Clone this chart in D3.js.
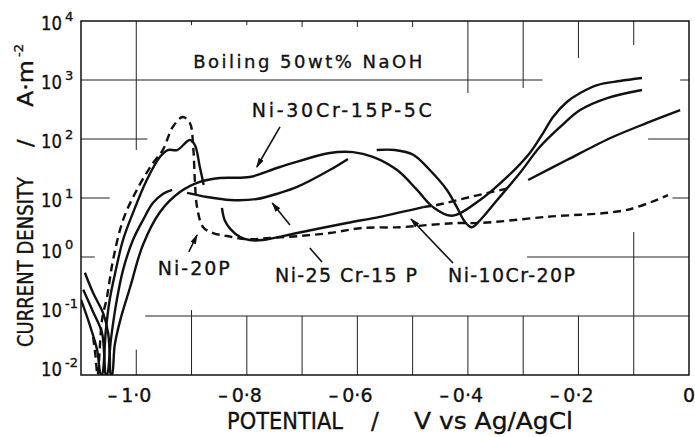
<!DOCTYPE html>
<html>
<head>
<meta charset="utf-8">
<script src="https://cdn.jsdelivr.net/npm/d3@7"></script>
<style>
  body { margin: 0; background: #fff; }
  text { font-family: "DejaVu Sans", sans-serif; fill: #111; stroke: #111; stroke-width: 0.35px; }
</style>
</head>
<body>
<svg id="chart" width="695" height="437"></svg>
<script>
// ---- data: [potential V vs Ag/AgCl, current density A/m2] ----
const ni30crCurve = [
  [-1.093, 0.54], [-1.078, 0.245], [-1.060, 0.112], [-1.051, 0.052], [-1.048, 0.022], [-1.046, 0.01],
  [-1.044, 0.01], [-1.039, 0.032], [-1.029, 0.085], [-1.011, 0.31], [-0.988, 1.6], [-0.957, 5.8],
  [-0.921, 12.6], [-0.885, 18.7], [-0.849, 21.8], [-0.795, 22.7], [-0.740, 33.5], [-0.650, 58],
  [-0.608, 60], [-0.572, 50], [-0.528, 29.8], [-0.492, 13.7], [-0.463, 7.0], [-0.429, 5.0],
  [-0.378, 9.25], [-0.329, 22.7], [-0.288, 58], [-0.264, 126], [-0.246, 236], [-0.221, 424],
  [-0.197, 603], [-0.166, 822], [-0.125, 962], [-0.085, 1081]
];
const ni25crActive = [
  [-1.100, 0.19], [-1.084, 0.070], [-1.071, 0.027], [-1.064, 0.01],
  [-1.062, 0.01], [-1.055, 0.058], [-1.048, 0.19], [-1.037, 0.60], [-1.024, 1.94], [-1.006, 5.6],
  [-0.981, 20.2], [-0.957, 50], [-0.943, 65], [-0.926, 65], [-0.903, 96], [-0.894, 79],
  [-0.885, 33.5], [-0.878, 16.6]
];
const ni25crPassive = [
  [-0.845, 6.8], [-0.840, 4.2], [-0.830, 3.0], [-0.812, 2.18], [-0.795, 1.94], [-0.771, 1.94],
  [-0.709, 2.55], [-0.619, 3.77], [-0.559, 4.8], [-0.481, 7.0]
];
const ni25crBridge = [[-0.481, 7.0], [-0.456, 7.6], [-0.396, 10.4], [-0.324, 14.8]];
const ni25crTrans = [[-0.291, 20.2], [-0.221, 44], [-0.138, 108], [-0.076, 187], [-0.016, 310]];
const ni10crActive = [
  [-1.096, 0.28], [-1.078, 0.117], [-1.062, 0.052], [-1.058, 0.022], [-1.055, 0.01],
  [-1.053, 0.01], [-1.046, 0.039], [-1.037, 0.15], [-1.024, 0.60], [-1.006, 1.94], [-0.988, 4.2],
  [-0.970, 8.2], [-0.952, 11.7], [-0.935, 13.7]
];
const ni10crPassive = [
  [-0.908, 12.2], [-0.872, 10.4], [-0.830, 9.25], [-0.782, 9.6], [-0.740, 12.2], [-0.709, 15.4],
  [-0.650, 29.8], [-0.617, 46]
];
const ni10crTrans = [
  [-0.565, 65], [-0.532, 65], [-0.499, 54], [-0.469, 29.8], [-0.438, 13.7], [-0.420, 7.0],
  [-0.405, 3.9], [-0.393, 3.2], [-0.378, 4.2], [-0.347, 9.25], [-0.306, 26.5], [-0.270, 73],
  [-0.233, 160], [-0.197, 310], [-0.148, 495], [-0.085, 678]
];
const ni20pCurve = [
  [-1.078, 0.044], [-1.074, 0.022], [-1.070, 0.01], [-1.062, 0.085], [-1.053, 0.21], [-1.042, 0.89],
  [-1.024, 4.2], [-0.999, 13.7], [-0.970, 39], [-0.952, 65], [-0.934, 160], [-0.916, 236],
  [-0.903, 187], [-0.897, 73], [-0.894, 20], [-0.890, 7.0], [-0.879, 3.2], [-0.861, 2.55],
  [-0.836, 2.27], [-0.800, 2.0], [-0.758, 2.1], [-0.704, 2.27], [-0.650, 2.55], [-0.592, 3.1],
  [-0.523, 3.2], [-0.469, 3.5], [-0.420, 3.77], [-0.378, 3.77], [-0.257, 4.8], [-0.112, 6.3],
  [-0.038, 11.2]
];

const xTicks = [-1.0, -0.8, -0.6, -0.4, -0.2, 0];
const xTickLabels = ['1·0', '0·8', '0·6', '0·4', '0·2', '0'];
const yTicks = [1e-2, 1e-1, 1e0, 1e1, 1e2, 1e3, 1e4];
const yTickExps = ['-2', '-1', '0', '1', '2', '3', '4'];

// partial graph-paper grid: [value, from, to]
const hGrid = [
  [1e3, -1.1, -0.265], [1e3, -0.016, 0], [1e2, -1.1, -0.98], [1e2, -0.074, 0],
  [1e1, -1.1, -1.048], [1e1, -0.03, 0], [1e0, -1.1, -1.075], [1e0, -0.293, 0], [1e-1, -0.984, 0]
];
const vGrid = [
  [-1.0, 65, 1e4], [-1.0, 1e-2, 0.027], [-0.9, 8500, 1e4], [-0.8, 8500, 1e4],
  [-0.7, 7900, 1e4], [-0.6, 7900, 1e4], [-0.5, 7900, 1e4], [-0.4, 603, 1e4],
  [-0.3, 731, 1e4], [-0.2, 2360, 1e4], [-0.1, 3920, 1e4],
  [-0.9, 1e-2, 0.126], [-0.8, 1e-2, 0.1], [-0.7, 1e-2, 0.1], [-0.6, 1e-2, 0.1],
  [-0.5, 1e-2, 0.1], [-0.4, 1e-2, 0.1], [-0.3, 1e-2, 0.1], [-0.2, 1e-2, 0.1], [-0.1, 1e-2, 2.65]
];

const labelTexts = ['Boiling 50wt% NaOH', 'Ni-30Cr-15P-5C', 'Ni-25 Cr-15 P', 'Ni-10Cr-20P', 'Ni-20P'];
const labelAnchors = [[-0.897, 1600], [-0.791, 236], [-0.749, 0.377], [-0.436, 0.377], [-0.961, 0.495]];
const pointers = [
  { from: [-0.740, 160], to: [-0.782, 33.5], head: true },
  { from: [-0.686, 1.42], to: [-0.664, 0.82], head: false },
  { from: [-0.722, 3.5], to: [-0.754, 8.2], head: true },
  { from: [-0.427, 0.79], to: [-0.503, 4.4], head: true },
  { from: [-0.905, 1.22], to: [-0.890, 2.36], head: true }
];

// ---- drawing ----
const svg = d3.select('#chart');
const plotLeft = 81, plotRight = 689, plotTop = 21, plotBottom = 375;

const x = d3.scaleLinear().domain([-1.1, 0]).range([plotLeft, plotRight]);
const y = d3.scaleLog().domain([1e-2, 1e4]).range([plotBottom, plotTop]);

const defs = svg.append('defs');
defs.append('clipPath').attr('id', 'plot')
  .append('rect').attr('x', plotLeft).attr('y', plotTop)
  .attr('width', plotRight - plotLeft).attr('height', plotBottom - plotTop);

const marker = defs.append('marker')
  .attr('id', 'head').attr('viewBox', '0 0 10 6')
  .attr('refX', 9).attr('refY', 3)
  .attr('markerWidth', 10).attr('markerHeight', 6)
  .attr('markerUnits', 'userSpaceOnUse')
  .attr('orient', 'auto');
marker.append('path').attr('d', 'M0,0 L10,3 L0,6 Z').attr('fill', '#111');

// grid
const grid = svg.append('g').attr('stroke', '#222').attr('stroke-width', 1);
hGrid.forEach(([v, a, b]) => {
  grid.append('line').attr('x1', x(a)).attr('x2', x(b)).attr('y1', y(v)).attr('y2', y(v));
});
vGrid.forEach(([v, a, b]) => {
  grid.append('line').attr('x1', x(v)).attr('x2', x(v)).attr('y1', y(a)).attr('y2', y(b));
});

// frame
svg.append('rect')
  .attr('x', plotLeft).attr('y', plotTop)
  .attr('width', plotRight - plotLeft).attr('height', plotBottom - plotTop)
  .attr('fill', 'none').attr('stroke', '#111').attr('stroke-width', 1.5);

// curves
const line = d3.line()
  .x(d => x(d[0]))
  .y(d => y(d[1]))
  .curve(d3.curveCatmullRom.alpha(0.5));

const series = [
  { data: ni30crCurve, dashed: false },
  { data: ni25crActive, dashed: false },
  { data: ni25crPassive, dashed: false },
  { data: ni25crBridge, dashed: true },
  { data: ni25crTrans, dashed: false },
  { data: ni10crActive, dashed: false },
  { data: ni10crPassive, dashed: false },
  { data: ni10crTrans, dashed: false },
  { data: ni20pCurve, dashed: true }
];

svg.append('g').attr('clip-path', 'url(#plot)')
  .selectAll('path')
  .data(series)
  .join('path')
  .attr('d', d => line(d.data))
  .attr('fill', 'none')
  .attr('stroke', '#111')
  .attr('stroke-width', 2.4)
  .attr('stroke-linejoin', 'round')
  .attr('stroke-dasharray', d => d.dashed ? '8,5' : null);

// x tick labels
xTicks.forEach((v, i) => {
  svg.append('text')
    .attr('x', x(v)).attr('y', 402)
    .attr('text-anchor', 'middle')
    .style('font-size', '19px')
    .text(xTickLabels[i]);
  if (v < 0) {
    svg.append('text')
      .attr('x', x(v) - 19).attr('y', 402)
      .attr('text-anchor', 'end')
      .style('font-size', '19px')
      .text('–');
  }
});

// y tick labels
yTicks.forEach((v, i) => {
  const base = y(v) + (v >= 10 ? 9 : 1);
  svg.append('text')
    .attr('x', 62).attr('y', base)
    .attr('text-anchor', 'end')
    .attr('textLength', 21).attr('lengthAdjust', 'spacingAndGlyphs')
    .style('font-size', '20px')
    .text('10');
  svg.append('text')
    .attr('x', 65).attr('y', base - 9)
    .style('font-size', '13px')
    .text(yTickExps[i]);
});

// axis titles
svg.append('text').attr('x', 227).attr('y', 429)
  .attr('textLength', 116).attr('lengthAdjust', 'spacingAndGlyphs')
  .style('font-size', '23px').text('POTENTIAL');
svg.append('text').attr('x', 371).attr('y', 429)
  .style('font-size', '23px').text('/');
svg.append('text').attr('x', 414).attr('y', 429)
  .attr('textLength', 159).attr('lengthAdjust', 'spacingAndGlyphs')
  .style('font-size', '23px').text('V vs Ag/AgCl');

const yTitle = svg.append('g').attr('transform', 'translate(33,193) rotate(-90)');
yTitle.append('text').attr('x', -154).attr('y', 0)
  .attr('textLength', 170).attr('lengthAdjust', 'spacingAndGlyphs')
  .style('font-size', '22px').text('CURRENT DENSITY');
yTitle.append('text').attr('x', 46).attr('y', 0)
  .style('font-size', '22px').text('/');
yTitle.append('text').attr('x', 86).attr('y', 0)
  .attr('textLength', 47).attr('lengthAdjust', 'spacingAndGlyphs')
  .style('font-size', '22px').text('A·m');
yTitle.append('text').attr('x', 136).attr('y', -10)
  .style('font-size', '13px').text('-2');

// annotations
const labelLengths = [229, 180, 142, 127, 72];
const labelSizes = [18, 19, 19, 19, 19];
labelTexts.forEach((t, i) => {
  svg.append('text')
    .attr('x', x(labelAnchors[i][0]))
    .attr('y', y(labelAnchors[i][1]))
    .attr('textLength', labelLengths[i])
    .attr('lengthAdjust', 'spacing')
    .style('font-size', labelSizes[i] + 'px')
    .text(t);
});

svg.append('g')
  .selectAll('line')
  .data(pointers)
  .join('line')
  .attr('x1', d => x(d.from[0])).attr('y1', d => y(d.from[1]))
  .attr('x2', d => x(d.to[0])).attr('y2', d => y(d.to[1]))
  .attr('stroke', '#111').attr('stroke-width', 1.6)
  .attr('marker-end', d => d.head ? 'url(#head)' : null);
</script>
</body>
</html>
